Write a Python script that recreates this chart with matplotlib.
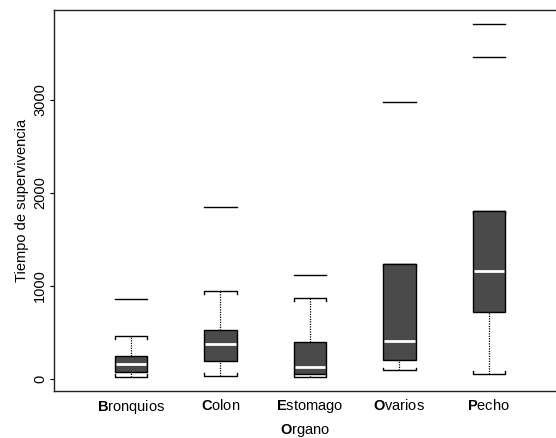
import matplotlib
matplotlib.use("Agg")
import matplotlib.pyplot as plt

plt.rcParams["font.family"] = ["Liberation Sans", "DejaVu Sans"]
plt.rcParams["mathtext.fontset"] = "custom"
plt.rcParams["mathtext.rm"] = "Liberation Sans"
plt.rcParams["mathtext.bf"] = "Liberation Sans:bold"

organos = ["Bronquios", "Colon", "Estomago", "Ovarios", "Pecho"]

# five-number summaries per organ (days)
whisker_low = [25, 36, 22, 93, 54]
box_low = [72, 190, 50, 204, 724]
medians = [161, 373, 129, 405, 1165]
box_high = [247, 523, 394, 1240, 1806]
whisker_high = [462, 943, 874, 1240, 1806]
outliers = [[860], [1846], [1115], [2975], [3466, 3812]]

BOX_WIDTH = 0.36
CAP_TICK = 30
FILL = "#4a4a4a"


def bold_first(label):
    return r"$\mathbf{" + label[0] + "}$" + label[1:]


fig = plt.figure(figsize=(5.56, 4.38), dpi=100)
ax = fig.add_axes([0.0971, 0.1073, 0.9029, 0.8699])

for i, name in enumerate(organos):
    x = i + 1
    half = BOX_WIDTH / 2

    # whiskers
    ax.plot([x, x], [box_high[i], whisker_high[i]], color="black", lw=0.9, ls=(0, (1, 1)), zorder=1)
    ax.plot([x, x], [whisker_low[i], box_low[i]], color="black", lw=0.9, ls=(0, (1, 1)), zorder=1)

    # caps with small end ticks pointing toward the box
    ax.plot([x - half, x - half, x + half, x + half],
            [whisker_high[i] - CAP_TICK, whisker_high[i], whisker_high[i], whisker_high[i] - CAP_TICK],
            color="black", lw=1, zorder=2)
    ax.plot([x - half, x - half, x + half, x + half],
            [whisker_low[i] + CAP_TICK, whisker_low[i], whisker_low[i], whisker_low[i] + CAP_TICK],
            color="black", lw=1, zorder=2)

    # box and median
    ax.bar(x, box_high[i] - box_low[i], bottom=box_low[i], width=BOX_WIDTH,
           color=FILL, edgecolor="black", linewidth=1, zorder=3)
    ax.plot([x - half + 0.01, x + half - 0.01], [medians[i], medians[i]],
            color="white", lw=2, zorder=4, solid_capstyle="butt")

    # outliers drawn as dashes
    for value in outliers[i]:
        ax.plot([x - half, x + half], [value, value], color="black", lw=1, zorder=2)

ax.set_xlim(0.14, 5.75)
ax.set_ylim(-129, 3968)

ax.set_xticks(range(1, len(organos) + 1))
ax.set_xticklabels([bold_first(n) for n in organos], fontsize=10.5)
ax.tick_params(axis="x", length=0, pad=5)

ax.set_yticks([0, 1000, 2000, 3000])
ax.set_yticklabels(["0", "1000", "2000", "3000"], rotation=90, va="center", fontsize=10.5)
ax.tick_params(axis="y", length=3, width=0.8, pad=2)

ax.set_xlabel(bold_first("Organo"), fontsize=10.5, labelpad=4)
ax.set_ylabel("Tiempo de supervivencia", fontsize=10.5, labelpad=3)

ax.spines["right"].set_visible(False)
for side in ["left", "top", "bottom"]:
    ax.spines[side].set_linewidth(1)
    ax.spines[side].set_color("#222222")

fig.savefig("out.png", dpi=100)
